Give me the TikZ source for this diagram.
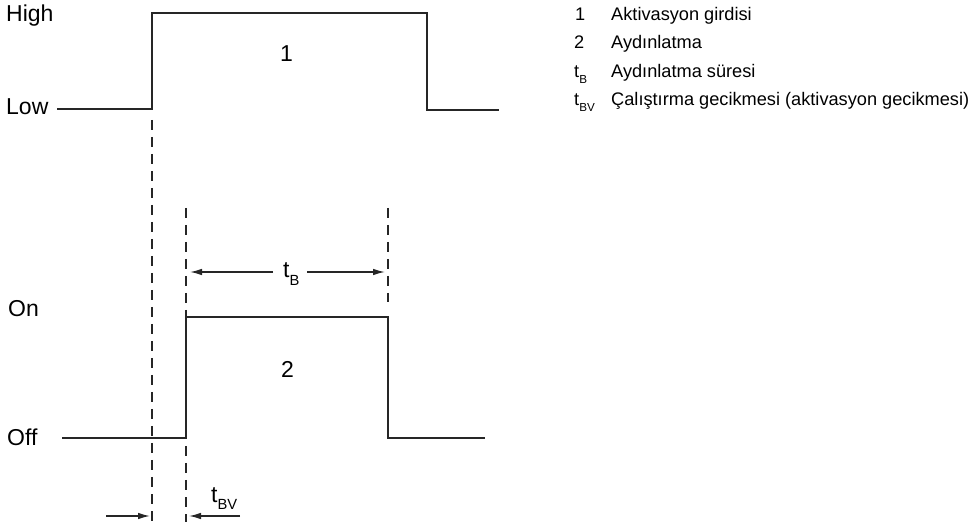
\documentclass[tikz,border=0pt]{standalone}
\usepackage{fontspec}
\usepackage{graphicx}
\setmainfont{Liberation Sans}
\usetikzlibrary{arrows.meta}
\newcommand{\tsub}[1]{t\raisebox{-0.32em}{\scalebox{0.64}{#1}}}

\begin{document}
\begin{tikzpicture}[x=1pt, y=-1pt,
      every node/.append style={inner sep=0pt},
      level/.style={font=\fontsize{23}{27}\selectfont, anchor=base west},
      legend/.style={font=\fontsize{18.2}{22}\selectfont, anchor=base west}]
    \tikzstyle{signal} = [line width=2.6pt, color=black!85, line join=miter]
    \tikzstyle{marker} = [line width=2.8pt, color=black!85, dash pattern=on 10pt off 7pt]
    \tikzstyle{span} = [line width=1.3pt, color=black!85, -{Latex[length=12pt,width=6.5pt]}]
    \tikzstyle{sigtext} = [font=\fontsize{23}{27}\selectfont, anchor=base west]
    \useasboundingbox (0,0) rectangle (975,526);
    % levels
    \node [level] (high) at (6,22) {High};
    \node [level] (low) at (6,115) {Low};
    \node [level] (on) at (8,317) {On};
    \node [level] (off) at (7,446) {Off};
    % activation input
    \coordinate (a0) at (57,109);
    \coordinate (a1) at (152,109);
    \coordinate (a2) at (152,13);
    \coordinate (a3) at (427,13);
    \coordinate (a4) at (427,110);
    \coordinate (a5) at (499,110);
    \draw [signal] (a0) -- (a1) -- (a2) -- (a3) -- (a4) -- (a5);
    \node [sigtext] (input) at (280,62) {1};
    % lighting
    \coordinate (b0) at (62,438);
    \coordinate (b1) at (186,438);
    \coordinate (b2) at (186,317);
    \coordinate (b3) at (388,317);
    \coordinate (b4) at (388,438);
    \coordinate (b5) at (485,438);
    \draw [signal] (b0) -- (b1) -- (b2) -- (b3) -- (b4) -- (b5);
    \node [sigtext] (light) at (281,378) {2};
    % markers
    \coordinate (m1top) at (152,120);
    \coordinate (m1bot) at (152,522);
    \coordinate (m2top) at (186,208);
    \coordinate (m2bot) at (186,522);
    \coordinate (m3top) at (388,208);
    \coordinate (m3bot) at (388,302);
    \draw [marker] (m1top) -- (m1bot);
    \draw [marker] (m2top) -- (m2bot);
    \draw [marker] (m3top) -- (m3bot);
    % lighting time
    \node [sigtext] (tb) at (283,278) {\tsub{B}};
    \coordinate (tbleft) at (190,272);
    \coordinate (tbright) at (385,272);
    \coordinate (tbltail) at (273,272);
    \coordinate (tbrtail) at (307,272);
    \draw [span] (tbltail) -- (tbleft);
    \draw [span] (tbrtail) -- (tbright);
    % activation delay
    \node [sigtext] (tbv) at (211,502) {\tsub{BV}};
    \coordinate (dleft) at (106,516);
    \coordinate (dright) at (240,516);
    \coordinate (dlefttip) at (150,516);
    \coordinate (drighttip) at (189,516);
    \draw [span] (dleft) -- (dlefttip);
    \draw [span] (dright) -- (drighttip);
    % legend
    \node [legend] (k1) at (575,20.5) {1};
    \node [legend] (k2) at (574,49) {2};
    \node [legend] (k3) at (574,77.5) {\tsub{B}};
    \node [legend] (k4) at (574,106) {\tsub{BV}};
    \node [legend] (l1) at (611,20.5) {Aktivasyon girdisi};
    \node [legend] (l2) at (611,49) {Aydınlatma};
    \node [legend] (l3) at (611,77.5) {Aydınlatma süresi};
    \node [legend] (l4) at (611,106) {Çalıştırma gecikmesi (aktivasyon gecikmesi)};
\end{tikzpicture}
\end{document}
